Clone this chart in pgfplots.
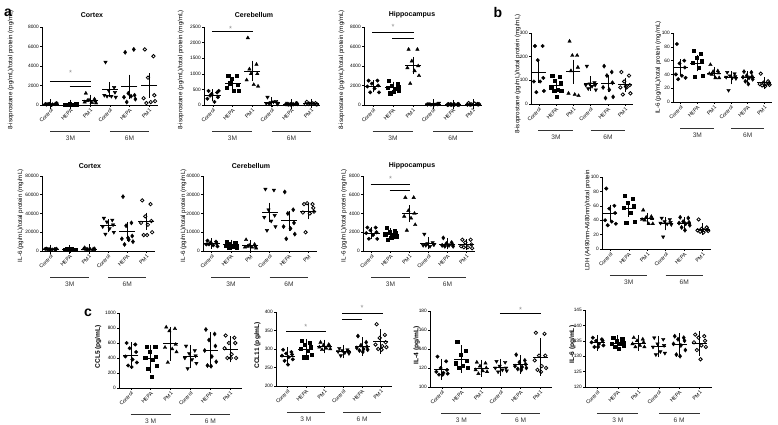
\documentclass[border=0pt]{standalone}
\usepackage{fontspec}
\setmainfont{Liberation Sans}
\usepackage{pgfplots}
\usepackage{pgfplotstable}
\pgfplotsset{compat=1.18}

% ---------- data: points (j = horizontal jitter), a..f = groups ----------
\pgfplotstableread{
j a b c d e f
-0.22 50 40 1200 4400 5400 5700
0.22 80 60 600 1800 5700 5000
-0.06 120 80 500 1500 1200 2800
0.26 150 100 400 1300 1000 1000
-0.28 100 50 300 1000 800 700
0.08 60 70 250 900 900 300
0.30 200 90 200 800 600 400
-0.14 90 60 450 900 300 200
}\datA
\pgfplotstableread{
x m e
0 100 20
1 70 10
2 490 110
3 1575 330
4 1870 780
5 2010 800
}\avgA

\pgfplotstableread{
j a b c d e f
-0.22 450 950 2150 250 30 100
0.22 400 950 1300 120 40 60
-0.06 350 850 1000 80 20 40
0.26 250 650 1000 60 50 20
-0.28 200 550 800 50 30 30
0.08 100 450 650 100 25 50
0.30 450 450 600 30 35 20
-0.14 300 700 1150 40 20 30
}\datB
\pgfplotstableread{
x m e
0 312 44
1 680 75
2 1090 190
3 91 25
4 31 4
5 44 10
}\avgB

\pgfplotstableread{
j a b c d e f
-0.22 2500 2500 5700 150 60 200
0.22 2500 2200 5700 100 50 100
-0.06 2200 2000 4500 80 40 60
0.26 2000 1900 4000 120 70 50
-0.28 1900 1800 3800 60 30 40
0.08 1700 1700 3500 90 50 150
0.30 1300 1500 3000 200 40 80
-0.14 1300 1200 2200 70 60 30
0.04 nan 1400 nan nan nan nan
}\datC
\pgfplotstableread{
x m e
0 1925 160
1 1800 130
2 4050 420
3 109 17
4 50 5
5 89 21
}\avgC

\pgfplotstableread{
j a b c d e f
-0.22 245 120 265 160 160 135
0.22 245 115 205 90 135 120
-0.06 185 100 205 85 120 95
0.26 110 90 155 80 90 80
-0.28 95 70 45 80 70 70
0.08 95 60 40 75 60 70
0.30 55 55 35 60 30 45
-0.14 50 55 140 65 25 40
0.04 nan 30 nan nan nan 75
}\datD
\pgfplotstableread{
x m e
0 135 27
1 77 10
2 136 32
3 87 11
4 86 17
5 81 10
}\avgD

\pgfplotstableread{
j a b c d e f
-0.22 84 74 54 43 44 41
0.22 60 70 45 41 43 30
-0.06 56 64 44 38 38 28
0.26 50 60 42 37 37 27
-0.28 40 57 41 36 36 26
0.08 38 50 35 35 35 26
0.30 35 38 35 34 33 25
-0.14 33 37 40 17 30 24
0.04 nan nan nan nan 26 23
}\datE
\pgfplotstableread{
x m e
0 49.5 6
1 56 5
2 42 2.2
3 35 3
4 35.8 1.9
5 27.8 1.8
}\avgE

\pgfplotstableread{
j a b c d e f
-0.22 2500 1800 3500 35000 58000 54000
0.22 2000 1500 2000 33000 30000 50000
-0.06 1800 2000 1800 31000 27000 37000
0.26 1500 1700 1500 28000 16000 32000
-0.28 2200 1600 2200 26000 13000 30000
0.08 1600 1900 1600 24000 12000 28000
0.30 2400 1400 2400 20000 10000 20000
-0.14 1900 2100 1700 18000 7000 17000
0.04 nan nan nan nan 14000 17000
}\datF
\pgfplotstableread{
x m e
0 1990 130
1 1750 90
2 2090 230
3 26875 2100
4 20780 5000
5 31700 4300
}\avgF

\pgfplotstableread{
j a b c d e f
-0.22 5500 5000 6000 33000 31500 25000
0.22 5000 4500 3500 32500 22000 25000
-0.06 4500 4000 3000 22000 20000 25500
0.26 4000 3500 2500 19000 15000 23000
-0.28 3500 3000 2000 18000 13000 20500
0.08 3000 2500 2000 16000 12000 20000
0.30 2500 2000 1500 13000 9000 21000
-0.14 3500 2000 2500 11000 6500 10000
0.04 nan 3000 nan nan nan nan
}\datG
\pgfplotstableread{
x m e
0 3940 360
1 3280 340
2 2875 500
3 20560 2900
4 16100 2900
5 21250 1800
}\avgG

\pgfplotstableread{
j a b c d e f
-0.22 2500 2500 5700 1800 1400 1200
0.22 2500 2200 5700 900 900 1200
-0.06 2200 2000 4300 800 800 900
0.26 2000 1900 4000 700 700 700
-0.28 1900 1800 3700 600 600 500
0.08 1700 1700 3500 500 600 400
0.30 1300 1500 2800 700 500 300
-0.14 1300 1200 2200 600 500 400
0.04 nan 1400 nan nan nan nan
}\datH
\pgfplotstableread{
x m e
0 1925 160
1 1800 130
2 3990 420
3 825 140
4 750 105
5 700 125
}\avgH

\pgfplotstableread{
j a b c d e f
-0.22 600 550 810 560 780 700
0.22 580 550 790 500 720 670
-0.06 530 480 760 460 640 600
0.26 480 420 580 430 560 600
-0.28 420 400 540 400 500 530
0.08 380 380 520 380 420 450
0.30 340 300 480 330 350 400
-0.14 300 260 340 260 300 400
0.04 280 150 nan nan 290 400
}\datI
\pgfplotstableread{
x m e
0 434 115
1 388 125
2 590 165
3 415 95
4 507 175
5 515 115
}\avgI

\pgfplotstableread{
j a b c d e f
-0.22 298 322 318 302 335 367
0.22 292 318 312 298 318 338
-0.06 288 312 310 296 310 330
0.26 285 305 308 294 306 318
-0.28 282 300 305 293 303 312
0.08 278 295 302 290 300 308
0.30 272 285 300 288 298 305
-0.14 268 278 298 282 296 300
0.04 258 278 nan nan 292 298
}\datJ
\pgfplotstableread{
x m e
0 280 12
1 299 16
2 306.6 6.5
3 293 6
4 306.5 13
5 319.6 21
}\avgJ

\pgfplotstableread{
j a b c d e f
-0.22 132 148 126 127 134 157
0.22 127 138 125 126 128 156
-0.06 120 134 122 122 126 133
0.26 118 128 120 120 124 133
-0.28 116 125 118 120 122 128
0.08 115 122 117 118 121 122
0.30 114 120 116 117 120 120
-0.14 113 120 114 116 119 118
0.04 113 nan nan nan 118 116
}\datK
\pgfplotstableread{
x m e
0 118.7 6.3
1 129.4 9.6
2 119.75 4
3 120.75 4
4 123.6 5
5 131.4 15
}\avgK

\pgfplotstableread{
j a b c d e f
-0.22 136 136 136 136 136.5 137
0.22 135.5 135.5 135.5 135.5 136 136.5
-0.06 135 135 135 134 135.5 136
0.26 135 134.5 134.5 133.5 135 135
-0.28 134.5 134 134 133 134 134.5
0.08 134 134 133.5 131.5 133.5 133.5
0.30 133.5 133.5 133 131 132 133
-0.14 133 133 133 130.5 130.5 132
0.04 133 132.5 nan nan 130 129
}\datL
\pgfplotstableread{
x m e
0 134.4 1.1
1 134.2 1.1
2 134.3 1.1
3 133.1 2
4 133.7 2.3
5 134.1 2.5
}\avgL

% ---------- styles ----------
\pgfplotsset{
  pan/.style={
    scale only axis, clip=false, enlargelimits=false,
    axis lines=left, axis line style={-, line width=0.6pt, black},
    xmin=-0.45, xmax=5.45, xtick={0,...,5},
    xticklabels={Control,HEPA,PM1,Control,HEPA,PM1},
    tick align=outside, major tick length=2pt,
    tick style={black, line width=0.5pt},
    ymin=0, scaled y ticks=false,
    yticklabel style={font=\fontsize{4.8}{5}\selectfont, inner sep=1pt},
    xticklabel style={rotate=45, anchor=north east, font=\fontsize{5.2}{6}\selectfont, inner sep=0.8pt},
    ylabel style={font=\fontsize{6.2}{7}\selectfont, anchor=center},
    /pgf/number format/1000 sep={},
    /pgf/number format/assume math mode=true,
  },
  panc/.style={pan, xmin=-0.6, xmax=5.6,
    ylabel style={font=\fontsize{6.6}{7}\selectfont\bfseries}},
  gA/.style={only marks, black, mark=*, mark size=1.75pt},
  gB/.style={only marks, black, mark=square*, mark size=1.6pt},
  gC/.style={only marks, black, mark=triangle*, mark size=2.0pt},
  gD/.style={only marks, black, mark=triangle*, mark size=2.0pt, mark options={rotate=180}},
  gE/.style={only marks, black, mark=diamond*, mark size=2.1pt},
  gF/.style={only marks, black, mark=o, mark size=1.7pt, mark options={line width=0.8pt}},
  meanbar/.style={only marks, black, mark=-, mark size=#1, mark options={line width=0.8pt},
    error bars/.cd, y dir=both, y explicit, error mark=-,
    error mark options={mark size=4.5pt, line width=0.8pt, black},
    error bar style={line width=0.8pt, black}},
  meanbar/.default=8pt,
}
\tikzset{
  grpline/.style={line width=1.2pt, black!80},
  grptext/.style={font=\fontsize{6.6}{7}\selectfont, text=black!80},
  sig/.style={line width=0.9pt, black},
  star/.style={font=\fontsize{7.5}{8}\selectfont, text=black!45},
  ttl/.style={font=\bfseries\fontsize{7}{8}\selectfont},
  plet/.style={font=\bfseries\fontsize{14}{14}\selectfont},
}
\newcommand{\pts}[1]{%
  \addplot[gA] table[x expr=\thisrow{j}, y=a]{#1};
  \addplot[gB] table[x expr=1+\thisrow{j}, y=b]{#1};
  \addplot[gC] table[x expr=2+\thisrow{j}, y=c]{#1};
  \addplot[gD] table[x expr=3+\thisrow{j}, y=d]{#1};
  \addplot[gE] table[x expr=4+\thisrow{j}, y=e]{#1};
  \addplot[gF] table[x expr=5+\thisrow{j}, y=f]{#1};
}
\newcommand{\mse}[2][8pt]{%
  \addplot[meanbar=#1] table[x=x, y=m, y error=e]{#2};
}
\newcommand{\grp}[3]{%
  \draw[grpline] ([yshift=-26.5pt]axis cs:-0.02,#1) -- ([yshift=-26.5pt]axis cs:2.0,#1);
  \draw[grpline] ([yshift=-26.5pt]axis cs:3.0,#1) -- ([yshift=-26.5pt]axis cs:5.0,#1);
  \node[grptext] at ([yshift=-33.5pt]axis cs:1,#1) {#2};
  \node[grptext] at ([yshift=-33.5pt]axis cs:4,#1) {#3};
}

\begin{document}
\begin{tikzpicture}[x=1pt,y=1pt]
\useasboundingbox (0,0) rectangle (778,425);

% panel letters and titles
\node[plet] at (8,412) {a};
\node[plet] at (498,412) {b};
\node[plet] at (88,112) {c};
\node[ttl] at (92,410) {Cortex};
\node[ttl] at (254,410) {Cerebellum};
\node[ttl] at (412,410) {Hippocampus};
\node[ttl] at (90,259) {Cortex};
\node[ttl] at (251,259) {Cerebellum};
\node[ttl] at (412,259) {Hippocampus};

% ---- a: Cortex 8-isoprostane
\begin{axis}[pan, at={(42pt,320pt)}, width=116pt, height=78pt,
  ymax=8000, ytick={0,2000,...,8000},
  ylabel={8-isoprostane (pg/mL)/total protein (mg/mL)},
  ylabel style={at={(axis description cs:-0.27,0.45)}}]
\pts{\datA}
\mse{\avgA}
\draw[sig] (axis cs:-0.05,2400) -- (axis cs:2.05,2400);
\draw[sig] (axis cs:0.95,1900) -- (axis cs:2.05,1900);
\node[star] at (axis cs:1,3300) {*};
\grp{0}{3M}{6M}
\end{axis}

% ---- a: Cerebellum 8-isoprostane
\begin{axis}[pan, at={(204pt,320pt)}, width=116pt, height=78pt,
  ymax=2500, ytick={0,500,...,2500},
  ylabel={8-isoprostane (pg/mL)/total protein (mg/mL)},
  ylabel style={at={(axis description cs:-0.2,0.45)}}]
\pts{\datB}
\mse{\avgB}
\draw[sig] (axis cs:-0.05,2350) -- (axis cs:2.05,2350);
\node[star] at (axis cs:0.9,2450) {*};
\grp{0}{3M}{6M}
\end{axis}

% ---- a: Hippocampus 8-isoprostane
\begin{axis}[pan, at={(364pt,320pt)}, width=118pt, height=78pt,
  ymax=8000, ytick={0,2000,...,8000},
  ylabel={8-isoprostane (pg/mL)/total protein (mg/mL)},
  ylabel style={at={(axis description cs:-0.19,0.45)}}]
\pts{\datC}
\mse{\avgC}
\draw[sig] (axis cs:-0.05,7400) -- (axis cs:2.05,7400);
\draw[sig] (axis cs:0.95,6800) -- (axis cs:2.05,6800);
\node[star] at (axis cs:1,8000) {*};
\grp{0}{3M}{6M}
\end{axis}

% ---- b: 8-isoprostane
\begin{axis}[pan, at={(531pt,321pt)}, width=102pt, height=71pt,
  ymax=300, ytick={0,100,200,300},
  ylabel={8-isoprostane (pg/mL)/total protein (mg/mL)},
  ylabel style={at={(axis description cs:-0.13,0.42)}}]
\pts{\datD}
\mse[7pt]{\avgD}
\grp{0}{3M}{6M}
\end{axis}

% ---- b: IL-6
\begin{axis}[pan, at={(673pt,323pt)}, width=99pt, height=69pt,
  ymax=100, ytick={0,20,...,100},
  ylabel={IL-6 (pg/mL)/total protein (mg/mL)},
  ylabel style={at={(axis description cs:-0.15,0.5)}}]
\pts{\datE}
\mse[7pt]{\avgE}
\grp{0}{3M}{6M}
\end{axis}

% ---- a: Cortex IL-6
\begin{axis}[pan, at={(42pt,174pt)}, width=113pt, height=75pt,
  ymax=80000, ytick={0,20000,...,80000},
  ylabel={IL-6 (pg/mL)/total protein (mg/mL)},
  ylabel style={at={(axis description cs:-0.19,0.47)}}]
\pts{\datF}
\mse{\avgF}
\grp{0}{3M}{6M}
\end{axis}

% ---- a: Cerebellum IL-6
\begin{axis}[pan, at={(203pt,174pt)}, width=114pt, height=75pt,
  ymax=40000, ytick={0,10000,...,40000},
  xticklabels={Control,HEPA,PM,Control,HEPA,PM},
  ylabel={IL-6 (pg/mL)/total protein (mg/mL)},
  ylabel style={at={(axis description cs:-0.17,0.47)}}]
\pts{\datG}
\mse{\avgG}
\grp{0}{3M}{6M}
\end{axis}

% ---- a: Hippocampus IL-6
\begin{axis}[pan, at={(363pt,174pt)}, width=112pt, height=75pt,
  ymax=8000, ytick={0,2000,...,8000},
  ylabel={IL-6 (pg/mL)/total protein (mg/mL)},
  ylabel style={at={(axis description cs:-0.17,0.47)}}]
\pts{\datH}
\mse{\avgH}
\draw[sig] (axis cs:-0.05,7050) -- (axis cs:2.05,7050);
\draw[sig] (axis cs:0.95,6500) -- (axis cs:2.05,6500);
\node[star] at (axis cs:1,7700) {*};
\grp{0}{3M}{6M}
\end{axis}

% ---- b: LDH
\begin{axis}[pan, at={(602pt,176pt)}, width=109pt, height=72pt,
  ymax=100, ytick={0,20,...,100},
  ylabel={LDH (A490nm-A680nm)/total protein},
  ylabel style={at={(axis description cs:-0.13,0.4)}}]
\pts{\datE}
\mse[7pt]{\avgE}
\grp{0}{3M}{6M}
\end{axis}

% ---- c: CCL5
\begin{axis}[panc, at={(119pt,37pt)}, width=123pt, height=75pt,
  ymax=1000, ytick={0,200,...,1000},
  ylabel={CCL5 (pg/mL)},
  ylabel style={at={(axis description cs:-0.17,0.55)}}]
\pts{\datI}
\mse[7.5pt]{\avgI}
\grp{0}{3 M}{6 M}
\end{axis}

% ---- c: CCL11
\begin{axis}[panc, at={(276pt,39pt)}, width=116pt, height=74pt,
  ymin=200, ymax=400, ytick={200,250,...,400},
  ylabel={CCL11 (pg/mL)},
  ylabel style={at={(axis description cs:-0.16,0.55)}}]
\pts{\datJ}
\mse[7.5pt]{\avgJ}
\draw[sig] (axis cs:-0.05,348) -- (axis cs:2.05,348);
\node[star] at (axis cs:1,361) {*};
\draw[sig] (axis cs:2.95,395) -- (axis cs:5.1,395);
\draw[sig] (axis cs:2.95,381) -- (axis cs:4.0,381);
\node[star] at (axis cs:4,410) {*};
\grp{200}{3 M}{6 M}
\end{axis}

% ---- c: IL-4
\begin{axis}[panc, at={(430pt,38pt)}, width=122pt, height=76pt,
  ymin=100, ymax=180, ytick={100,120,...,180},
  ylabel={IL-4 (pg/mL)},
  ylabel style={at={(axis description cs:-0.11,0.55)}}]
\pts{\datK}
\mse[7.5pt]{\avgK}
\draw[sig] (axis cs:2.95,177) -- (axis cs:5.05,177);
\node[star] at (axis cs:4,181) {*};
\grp{100}{3 M}{6 M}
\end{axis}

% ---- c: IL-6
\begin{axis}[panc, at={(585pt,38pt)}, width=127pt, height=77pt,
  ymin=120, ymax=145, ytick={120,125,...,145},
  ylabel={IL-6 (pg/mL)},
  ylabel style={at={(axis description cs:-0.1,0.55)}}]
\pts{\datL}
\mse[7.5pt]{\avgL}
\grp{120}{3 M}{6 M}
\end{axis}
\end{tikzpicture}
\end{document}
